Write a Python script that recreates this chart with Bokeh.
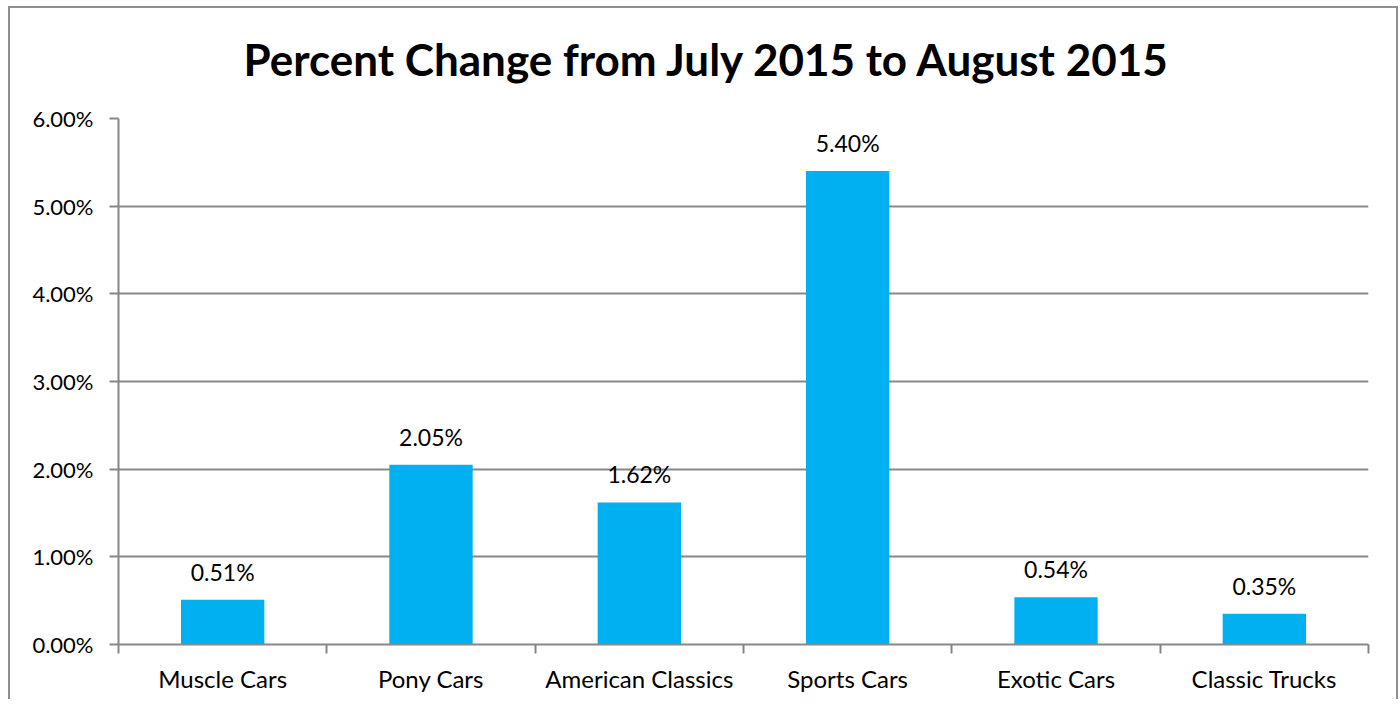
from bokeh.plotting import figure
from bokeh.models import ColumnDataSource, FixedTicker, PrintfTickFormatter, Title
from bokeh.core.properties import value
from bokeh.embed import file_html
from bokeh.resources import INLINE

title = "Percent Change from July 2015 to August 2015"
categories = ["Muscle Cars", "Pony Cars", "American Classics", "Sports Cars", "Exotic Cars", "Classic Trucks"]
values = [0.51, 2.05, 1.62, 5.40, 0.54, 0.35]
y_ticks = [0, 1, 2, 3, 4, 5, 6]

FONT = "Lato"
GRAY = "#878787"
BORDER = "#8E8E8E"

xs = [i + 0.5 for i in range(len(categories))]
src = ColumnDataSource(dict(x=xs, top=values, cat=categories,
                            label=["%.2f%%" % v for v in values]))

p = figure(width=1390, height=700, output_backend="svg", toolbar_location=None,
           x_range=(0, len(categories)), y_range=(y_ticks[0], y_ticks[-1]),
           frame_width=1250, frame_height=526,
           min_border_left=110, min_border_right=30, min_border_top=119, min_border_bottom=55)
g = "linear-gradient(%s,%s)" % (BORDER, BORDER)
p.styles = {
    "margin-left": "8px", "margin-top": "-1px",
    "background": (g + " 0px 7px / 100% 2px no-repeat, "
                   + g + " 0px 7px / 2px 100% no-repeat, "
                   + g + " right 0px top 7px / 2px 100% no-repeat, white"),
}
p.outline_line_color = None
p.background_fill_color = "white"
p.border_fill_color = None

p.vbar(x="x", top="top", width=0.4, bottom=0, source=src, fill_color="#00B0F0", line_color=None)
p.text(x="x", y="top", text="label", source=src, text_align="center", text_baseline="alphabetic",
       y_offset=-28, text_font=value(FONT), text_font_size="23px", text_color="black")

# y axis
p.yaxis.ticker = FixedTicker(ticks=y_ticks)
p.yaxis.formatter = PrintfTickFormatter(format="%.2f%%")
p.yaxis.axis_line_color = GRAY
p.yaxis.axis_line_width = 2
p.yaxis.major_tick_line_color = GRAY
p.yaxis.major_tick_line_width = 2
p.yaxis.major_tick_out = 9
p.yaxis.major_tick_in = 0
p.yaxis.minor_tick_line_color = None
p.yaxis.major_label_text_font = FONT
p.yaxis.major_label_text_font_size = "22px"
p.yaxis.major_label_text_color = "black"
p.yaxis.major_label_standoff = 16

# x axis
p.xaxis.ticker = FixedTicker(ticks=xs, minor_ticks=list(range(len(categories) + 1)))
p.xaxis.major_label_overrides = {x: c for x, c in zip(xs, categories)}
p.xaxis.axis_line_color = GRAY
p.xaxis.axis_line_width = 2
p.xaxis.major_tick_line_color = None
p.xaxis.major_tick_out = 0
p.xaxis.major_tick_in = 0
p.xaxis.minor_tick_line_color = GRAY
p.xaxis.minor_tick_line_width = 2
p.xaxis.minor_tick_out = 9
p.xaxis.minor_tick_in = 0
p.xaxis.major_label_text_font = FONT
p.xaxis.major_label_text_font_size = "24px"
p.xaxis.major_label_text_color = "black"
p.xaxis.major_label_standoff = 10

p.xgrid.grid_line_color = None
p.ygrid.grid_line_color = GRAY
p.ygrid.grid_line_width = 2

p.add_layout(Title(text=title, align="left", offset=125, vertical_align="top", standoff=64,
                   text_font=FONT, text_font_size="44px", text_font_style="bold",
                   text_color="black"), "above")

open("out.html", "w").write(file_html(p, INLINE))
